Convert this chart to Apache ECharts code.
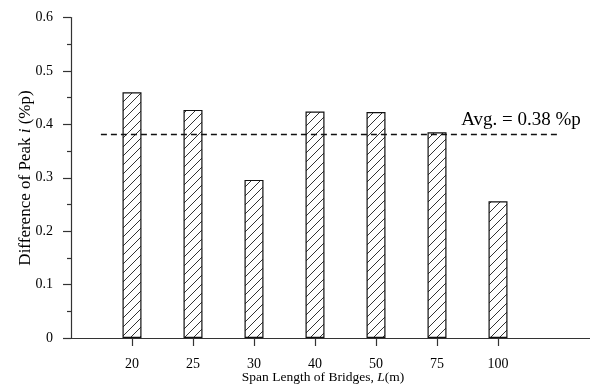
<!DOCTYPE html>
<html><head><meta charset="utf-8">
<script src="https://cdn.jsdelivr.net/npm/echarts@6/dist/echarts.min.js"></script>
<style>html,body{margin:0;padding:0;background:#fff}#c{width:590px;height:387px}</style>
</head><body><div id="c"></div>
<script>
const categories = ['20', '25', '30', '40', '50', '75', '100'];
const values = [0.46, 0.427, 0.296, 0.424, 0.423, 0.385, 0.256];
const avgValue = 0.382;
const avgLabel = 'Avg. = 0.38 %p';
const yTicks = [0, 0.1, 0.2, 0.3, 0.4, 0.5, 0.6];

const FONT = '"Liberation Serif", "Times New Roman", serif';

// hatch pattern
const pc = document.createElement('canvas');
pc.width = 9; pc.height = 9;
const g = pc.getContext('2d');
g.fillStyle = '#fff'; g.fillRect(0, 0, 9, 9);
g.strokeStyle = '#333'; g.lineWidth = 1;
g.beginPath();
g.moveTo(-1, 10); g.lineTo(10, -1);
g.moveTo(-1, 1); g.lineTo(1, -1);
g.moveTo(8, 10); g.lineTo(10, 8);
g.stroke();

const positions = categories.map((c, i) => i + 1);
const chart = echarts.init(document.getElementById('c'));
chart.setOption({
  animation: false,
  grid: { left: 71, right: 0.5, top: 17.5, bottom: 49 },
  xAxis: {
    type: 'value', min: 0, max: 8.5,
    axisLine: { lineStyle: { color: '#333', width: 1.2 } },
    axisTick: { show: true, customValues: positions, length: 8, inside: false, lineStyle: { color: '#333', width: 1.2 } },
    axisLabel: { customValues: positions, margin: 19, color: '#000', fontFamily: FONT, fontSize: 14,
      formatter: v => categories[Math.round(v) - 1] || '' },
    splitLine: { show: false }
  },
  yAxis: {
    type: 'value', min: 0, max: 0.6, interval: 0.1,
    axisLine: { show: true, lineStyle: { color: '#333', width: 1.2 } },
    axisTick: { show: true, length: 8, lineStyle: { color: '#333', width: 1.2 } },
    minorTick: { show: true, splitNumber: 2, length: 4, lineStyle: { color: '#333', width: 1.2 } },
    axisLabel: { margin: 18, color: '#000', fontFamily: FONT, fontSize: 14,
      formatter: v => { const t = yTicks.find(x => Math.abs(x - v) < 1e-9); return t === 0 ? '0' : String(t); } },
    splitLine: { show: false }
  },
  series: [{
    type: 'bar',
    barWidth: 19,
    data: positions.map((p, i) => [p, values[i]]),
    itemStyle: { color: { image: pc, repeat: 'repeat' }, borderColor: '#111', borderWidth: 1.2 },
    markLine: {
      silent: true, symbol: 'none', label: { show: false },
      lineStyle: { color: '#111', width: 1.3, type: [6, 4] },
      data: [[{ coord: [0.49, avgValue] }, { coord: [8.02, avgValue] }]]
    }
  }],
  graphic: [
    { type: 'text', x: 521, y: 120, style: { text: avgLabel, fontFamily: FONT, fontSize: 19, fill: '#000', align: 'center', verticalAlign: 'middle' } },
    { type: 'text', x: 323, y: 377, style: { text: '{a|Span Length of Bridges, }{b|L}{a|(m)}', align: 'center', verticalAlign: 'middle',
        rich: { a: { fontFamily: FONT, fontSize: 13.5, fill: '#000' }, b: { fontFamily: FONT, fontSize: 13.5, fontStyle: 'italic', fill: '#000' } } } },
    { type: 'text', x: 26, y: 178, rotation: Math.PI / 2, style: { text: '{a|Difference of Peak }{b|i}{a| (%p)}', align: 'center', verticalAlign: 'middle',
        rich: { a: { fontFamily: FONT, fontSize: 17, fill: '#000' }, b: { fontFamily: FONT, fontSize: 17, fontStyle: 'italic', fill: '#000' } } } }
  ]
});
</script></body></html>
